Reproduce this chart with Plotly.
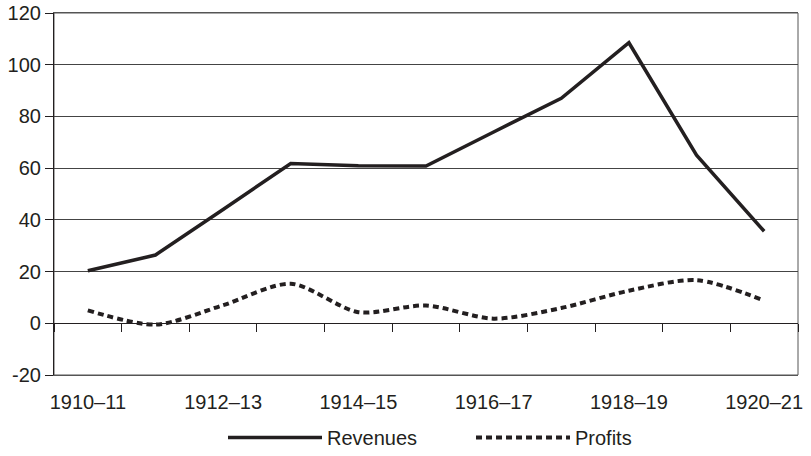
import plotly.graph_objects as go

categories = ["1910–11", "1911–12", "1912–13", "1913–14", "1914–15", "1915–16",
              "1916–17", "1917–18", "1918–19", "1919–20", "1920–21"]
revenues = [20.3, 26.4, 44.0, 61.8, 60.9, 60.8, 74.0, 87.0, 108.5, 65.0, 35.6]
profits = [5.0, -0.5, 7.0, 15.3, 4.3, 6.9, 1.8, 5.9, 12.6, 16.7, 8.8]
y_ticks = [-20, 0, 20, 40, 60, 80, 100, 120]
y_tick_text = ["-20", "0", "20", "40", "60", "80", "100", "120"]
x_tick_labels = categories[::2]

INK = "#231f20"
FONT = dict(family="Liberation Sans, Arial, sans-serif", size=20, color=INK)

W, H = 811, 456

fig = go.Figure()
fig.add_trace(go.Scatter(x=categories, y=revenues, name="Revenues", mode="lines",
                         line=dict(color=INK, width=3.5)))
fig.add_trace(go.Scatter(x=categories, y=profits, name="Profits", mode="lines",
                         xaxis="x2",
                         line=dict(color=INK, width=4, dash="6px,4px",
                                   shape="spline", smoothing=0.8)))

fig.update_layout(
    width=W, height=H,
    margin=dict(l=54, r=13, t=13, b=81, autoexpand=False),
    paper_bgcolor="white", plot_bgcolor="white",
    font=FONT,
    showlegend=True,
    legend=dict(orientation="h", xref="container", yref="container",
                x=223 / W, xanchor="left",
                y=1 - 418 / H, yanchor="top", bgcolor="rgba(0,0,0,0)",
                itemwidth=94, entrywidth=139, font=FONT, traceorder="normal"),
    xaxis=dict(type="category", categoryorder="array", categoryarray=categories,
               range=[-0.5, 10.5], tickvals=x_tick_labels, ticks="",
               showgrid=False, showline=True, linecolor="#555", linewidth=1,
               mirror=True, ticklabelstandoff=9, tickfont=FONT, automargin=False,
               ticklabeloverflow="allow"),
    xaxis2=dict(type="category", categoryorder="array", categoryarray=categories,
                range=[-0.5, 10.5], overlaying="x", anchor="free", position=1/7,
                ticks="outside", tickson="boundaries", ticklen=8, tickwidth=1.2,
                tickcolor=INK, showticklabels=False, showgrid=False, showline=False,
                automargin=False),
    yaxis=dict(range=[-20, 120], tickvals=y_ticks, ticktext=y_tick_text,
               ticks="outside", ticklen=8,
               tickcolor=INK, showline=True, linecolor=INK, linewidth=1.2,
               showgrid=True, gridcolor="#444", gridwidth=1,
               zeroline=True, zerolinecolor=INK, zerolinewidth=1.2,
               tickfont=FONT, automargin=False, ticklabeloverflow="allow"),
    shapes=[dict(type="rect", xref="paper", yref="paper", x0=0, x1=1, y0=0, y1=1,
                 line=dict(color="#555", width=1), layer="below")],
)

fig.write_html("out.html", config={"displayModeBar": False},
               post_script="document.body.style.margin='0';document.body.style.overflow='hidden';")
